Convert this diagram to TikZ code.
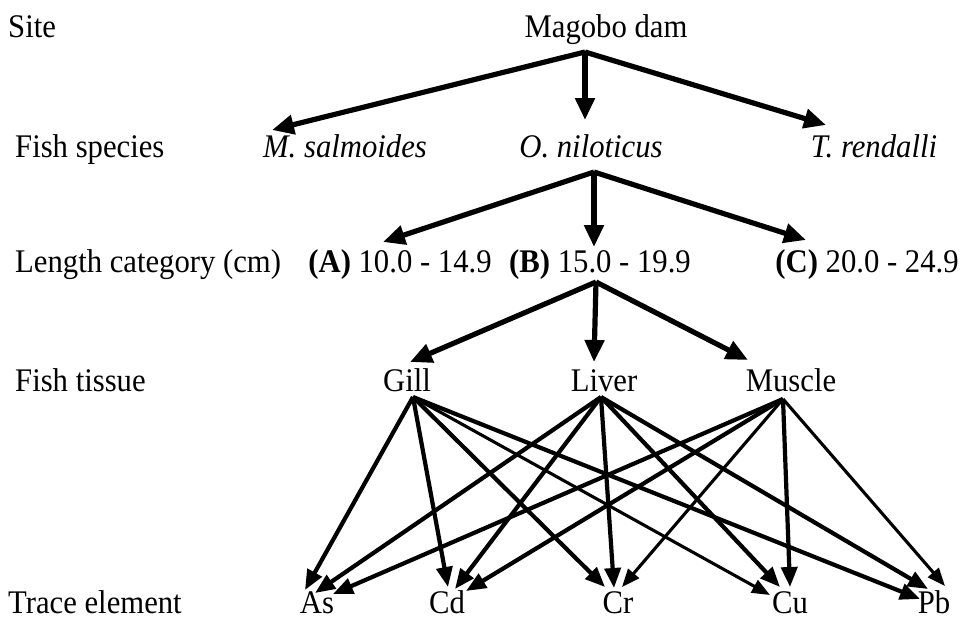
\documentclass[tikz,border=0pt]{standalone}
\usepackage{fontspec}
\setmainfont{Liberation Serif}[FakeStretch=0.93]
\usetikzlibrary{arrows.meta}
\begin{document}
\begin{tikzpicture}[x=1pt,y=-1pt,
  lbl/.style={inner sep=0pt, anchor=base, font=\fontsize{33}{38}\selectfont},
  rowname/.style={lbl, anchor=base west},
  big/.style={line width=5.2pt, -{Triangle[length=22pt,width=19pt]}},
  link/.style={line width=4.2pt, -{Triangle[length=20pt,width=16pt]}},
  slim/.style={line width=3.1pt, -{Triangle[length=18pt,width=14pt]}}]
\useasboundingbox[fill=white] (0,0) rectangle (960,622);

% row names (positions are baselines)
\node[rowname] (rsite) at (8,37)   {Site};
\node[rowname] (rspec) at (15,157) {Fish species};
\node[rowname] (rlen)  at (15,272) {Length category (cm)};
\node[rowname] (rtis)  at (15,391) {Fish tissue};
\node[rowname] (rtr)   at (8,613)  {Trace element};

% site
\node[lbl] (mag) at (606,37) {Magobo dam};
% species
\node[lbl] (sal) at (345,157) {\itshape M. salmoides};
\node[lbl] (nil) at (591,157) {\itshape O. niloticus};
\node[lbl] (ren) at (874,157) {\itshape T. rendalli};
% length classes
\node[lbl] (lA) at (400,272) {\textbf{(A)} 10.0 - 14.9};
\node[lbl] (lB) at (600,272) {\textbf{(B)} 15.0 - 19.9};
\node[lbl] (lC) at (867,272) {\textbf{(C)} 20.0 - 24.9};
% tissues
\node[lbl] (gill)   at (407,391) {Gill};
\node[lbl] (liver)  at (604,391) {Liver};
\node[lbl] (muscle) at (791,391) {Muscle};
% trace elements
\node[lbl] (As) at (317,613) {As};
\node[lbl] (Cd) at (447,613) {Cd};
\node[lbl] (Cr) at (618,613) {Cr};
\node[lbl] (Cu) at (790,613) {Cu};
\node[lbl] (Pb) at (934,613) {Pb};

% fan-out points below the parent labels
\coordinate (fmag)   at ([shift={(-21,15)}]mag.base);
\coordinate (fnil)   at ([shift={(3,15)}]nil.base);
\coordinate (flB)    at ([shift={(-4,10)}]lB.base);
\coordinate (fgill)  at ([shift={(6,6)}]gill.base);
\coordinate (fliver) at ([shift={(-3,6)}]liver.base);
\coordinate (fmusc)  at ([shift={(-8,8)}]muscle.base);

% site -> species
\draw[big] (fmag) -- ([shift={(-73,-27)}]sal.base);
\draw[big] (fmag) -- ([shift={(-6,-37)}]nil.base);
\draw[big] (fmag) -- ([shift={(-48,-32)}]ren.base);

% species -> length class
\draw[big] (fnil) -- ([shift={(-17,-30)}]lA.base);
\draw[big] (fnil) -- ([shift={(-6,-25)}]lB.base);
\draw[big] (fnil) -- ([shift={(-61,-32)}]lC.base);

% length class -> tissue
\draw[big] (flB) -- ([shift={(3,-29)}]gill.base);
\draw[big] (flB) -- ([shift={(-10,-29)}]liver.base);
\draw[big] (flB) -- ([shift={(-43,-31)}]muscle.base);

% tissue -> trace element
\draw[link] (fgill) -- ([shift={(-12,-23)}]As.base);
\draw[link] (fgill) -- ([shift={(1,-26)}]Cd.base);
\draw[link] (fgill) -- ([shift={(-13,-26)}]Cr.base);
\draw[slim] (fgill) -- ([shift={(-20,-18)}]Cu.base);
\draw[link] (fgill) -- ([shift={(-14,-14)}]Pb.base);

\draw[link] (fliver) -- ([shift={(-2,-20)}]As.base);
\draw[link] (fliver) -- ([shift={(8,-24)}]Cd.base);
\draw[link] (fliver) -- ([shift={(-4,-25)}]Cr.base);
\draw[link] (fliver) -- ([shift={(-10,-26)}]Cu.base);
\draw[link] (fliver) -- ([shift={(-6,-24)}]Pb.base);

\draw[link] (fmusc) -- ([shift={(16,-19)}]As.base);
\draw[link] (fmusc) -- ([shift={(19,-22)}]Cd.base);
\draw[slim] (fmusc) -- ([shift={(4,-26)}]Cr.base);
\draw[link] (fmusc) -- ([shift={(0,-26)}]Cu.base);
\draw[slim] (fmusc) -- ([shift={(11,-27)}]Pb.base);
\end{tikzpicture}
\end{document}
